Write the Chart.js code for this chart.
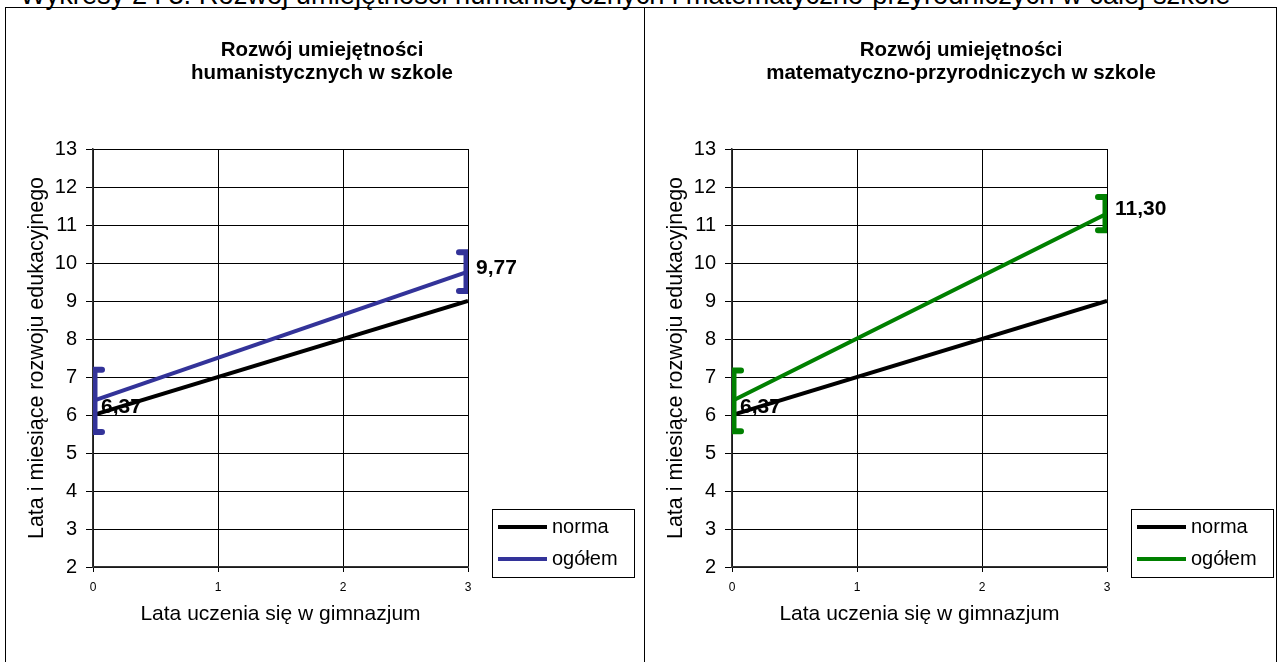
<!DOCTYPE html>
<html>
<head>
<meta charset="utf-8">
<script src="https://cdn.jsdelivr.net/npm/chart.js@4.4.0/dist/chart.umd.min.js"></script>
<style>
body { margin: 0; background: #fff; width: 1279px; height: 662px; overflow: hidden; position: relative; font-family: "Liberation Sans", Arial, sans-serif; }
#heading { position: absolute; left: 20px; top: -19px; font-size: 27.3px; line-height: 27px; white-space: nowrap; }
canvas { position: absolute; }
.line { position: absolute; background: #000; }
</style>
</head>
<body>
<div id="heading">Wykresy 2 i 3. Rozwój umiejętności humanistycznych i matematyczno-przyrodniczych w całej szkole</div>
<div class="line" style="left:5px;top:7px;width:1272px;height:1px"></div>
<div class="line" style="left:5px;top:7px;width:1px;height:655px"></div>
<div class="line" style="left:644px;top:7px;width:1px;height:655px"></div>
<div class="line" style="left:1276px;top:7px;width:1px;height:655px"></div>
<canvas id="humChart" style="left:6px;top:8px" width="632" height="654"></canvas>
<canvas id="matChart" style="left:645px;top:8px" width="632" height="654"></canvas>
<script>
// data
var years = [0, 3];
var xTicks = [0, 1, 2, 3];
var yTicks = [2, 3, 4, 5, 6, 7, 8, 9, 10, 11, 12, 13];
var normaValues = [6, 9];
var humValues = [6.37, 9.77];
var humErrors = [0.82, 0.51];
var matValues = [6.37, 11.30];
var matErrors = [0.80, 0.44];

var font = '"Liberation Sans", Arial, sans-serif';

function points(values) {
    return years.map(function (x, i) { return { x: x, y: values[i] }; });
}

function fmt(v) {
    return v.toFixed(2).replace('.', ',');
}

// error bars + value labels for the "ogółem" series
var markers = {
    id: 'markers',
    afterDatasetsDraw: function (chart) {
        var ctx = chart.ctx, a = chart.chartArea, ys = chart.scales.y;
        chart.data.datasets.forEach(function (ds, i) {
            if (!ds.errors) return;
            var meta = chart.getDatasetMeta(i);
            meta.data.forEach(function (pt, j) {
                var v = ds.data[j].y, e = ds.errors[j];
                var yTop = ys.getPixelForValue(v + e);
                var yBot = ys.getPixelForValue(v - e);
                ctx.save();
                ctx.beginPath();
                ctx.rect(a.left, a.top - 20, a.right - a.left, a.bottom - a.top + 40);
                ctx.clip();
                ctx.strokeStyle = ds.borderColor;
                ctx.lineWidth = 9;
                ctx.beginPath();
                ctx.moveTo(pt.x, yTop);
                ctx.lineTo(pt.x, yBot);
                ctx.stroke();
                ctx.lineWidth = 6;
                ctx.lineCap = 'round';
                ctx.beginPath();
                ctx.moveTo(pt.x - 9, yTop); ctx.lineTo(pt.x + 9, yTop);
                ctx.moveTo(pt.x - 9, yBot); ctx.lineTo(pt.x + 9, yBot);
                ctx.stroke();
                ctx.restore();

                ctx.save();
                ctx.fillStyle = '#000';
                ctx.font = 'bold 21px ' + font;
                ctx.textBaseline = 'middle';
                ctx.fillText(fmt(v), pt.x + 8, pt.y + (j === 0 ? 6 : -4));
                ctx.restore();
            });
        });
    }
};

// title centred over the whole panel, not only the plot part
var wideTitle = {
    id: 'wideTitle',
    afterLayout: function (chart) {
        var t = chart.titleBlock;
        if (!t) return;
        t.left = 0;
        t.right = chart.width;
        t.width = chart.width;
    }
};

var boxLegend = {
    id: 'boxLegend',
    afterDraw: function (chart) {
        var ctx = chart.ctx, a = chart.chartArea;
        var left = a.right + 24, top = a.bottom - 58;
        ctx.save();
        ctx.strokeStyle = '#000';
        ctx.lineWidth = 1;
        ctx.strokeRect(left + 0.5, top + 0.5, 142, 68);
        ctx.font = '20px ' + font;
        ctx.textBaseline = 'middle';
        ctx.fillStyle = '#000';
        chart.data.datasets.forEach(function (ds, i) {
            var y = top + 18 + i * 32;
            ctx.strokeStyle = ds.borderColor;
            ctx.lineWidth = 4;
            ctx.beginPath();
            ctx.moveTo(left + 6, y);
            ctx.lineTo(left + 55, y);
            ctx.stroke();
            ctx.fillText(ds.label, left + 60, y);
        });
        ctx.restore();
    }
};

function makeChart(id, title, values, errors, color) {
    var ctx = document.getElementById(id).getContext('2d');
    return new Chart(ctx, {
        type: 'line',
        data: {
            datasets: [{
                label: 'norma',
                data: points(normaValues),
                borderColor: '#000000',
                borderWidth: 4,
                pointRadius: 0,
                fill: false
            }, {
                label: 'ogółem',
                data: points(values),
                errors: errors,
                borderColor: color,
                borderWidth: 4,
                pointRadius: 0,
                fill: false
            }]
        },
        options: {
            responsive: false,
            animation: false,
            layout: { padding: { left: 0, right: 170, top: 0, bottom: 35 } },
            plugins: {
                legend: { display: false },
                tooltip: { enabled: false },
                title: {
                    display: true,
                    text: title,
                    color: '#000',
                    font: { family: font, size: 20.5, weight: 'bold', lineHeight: '23px' },
                    padding: { top: 30.5, bottom: 64.5 }
                }
            },
            scales: {
                x: {
                    type: 'linear',
                    min: 0,
                    max: 3,
                    afterFit: function (s) { s.height = 60; },
                    afterBuildTicks: function (s) { s.ticks = xTicks.map(function (v) { return { value: v }; }); },
                    ticks: { color: '#000', font: { family: font, size: 12 }, padding: 8 },
                    grid: { color: '#000', lineWidth: 1, tickLength: 5 },
                    border: { color: '#333', width: 1.5 },
                    title: {
                        display: true,
                        text: 'Lata uczenia się w gimnazjum',
                        color: '#000',
                        font: { family: font, size: 21 },
                        padding: { top: 0, bottom: 0 }
                    }
                },
                y: {
                    min: 2,
                    max: 13,
                    afterFit: function (s) { s.width = 87; },
                    afterBuildTicks: function (s) { s.ticks = yTicks.map(function (v) { return { value: v }; }); },
                    ticks: { color: '#000', font: { family: font, size: 20 }, padding: 9 },
                    grid: { color: '#000', lineWidth: 1, tickLength: 7 },
                    border: { color: '#333', width: 1.5 },
                    title: {
                        display: true,
                        text: 'Lata i miesiące rozwoju edukacyjnego',
                        color: '#000',
                        font: { family: font, size: 21.5 },
                        padding: { top: 18, bottom: 0 }
                    }
                }
            }
        },
        plugins: [wideTitle, markers, boxLegend]
    });
}

makeChart('humChart', ['Rozwój umiejętności', 'humanistycznych w szkole'], humValues, humErrors, '#333399');
makeChart('matChart', ['Rozwój umiejętności', 'matematyczno-przyrodniczych w szkole'], matValues, matErrors, '#008000');
</script>
</body>
</html>
